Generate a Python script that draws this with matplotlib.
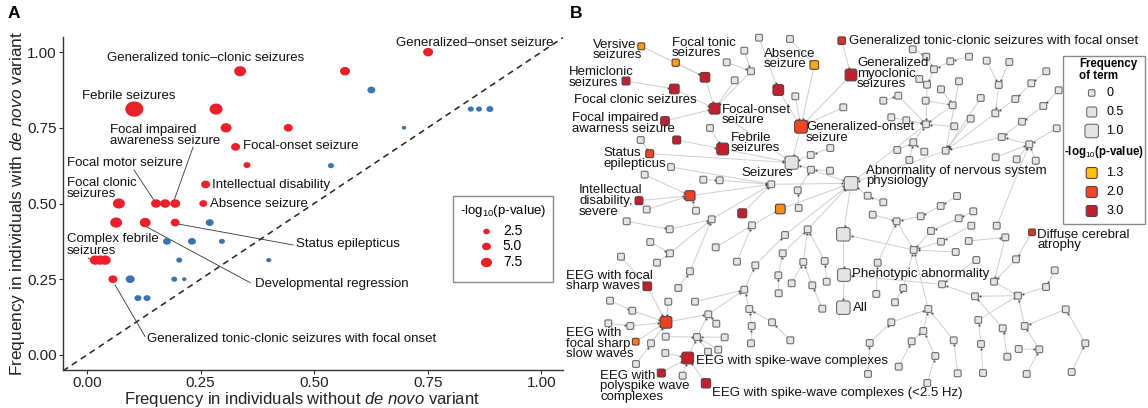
import numpy as np
import matplotlib
matplotlib.use("Agg")
import matplotlib.pyplot as plt
from matplotlib.patches import FancyBboxPatch, Rectangle
from matplotlib.path import Path
from matplotlib.markers import MarkerStyle
from matplotlib.colors import LinearSegmentedColormap, Normalize

plt.rcParams['font.family'] = ['Liberation Sans', 'DejaVu Sans']
plt.rcParams['mathtext.fontset'] = 'custom'
plt.rcParams['mathtext.rm'] = 'Liberation Sans'
plt.rcParams['mathtext.it'] = 'Liberation Sans:italic'

# ---------------- Panel A data ----------------
red_x = [0.751, 0.337, 0.568, 0.104, 0.284, 0.306, 0.443, 0.327, 0.352, 0.261,
         0.070, 0.152, 0.172, 0.194, 0.256, 0.064, 0.128, 0.194, 0.018, 0.029, 0.040, 0.057]
red_y = [1.000, 0.937, 0.937, 0.812, 0.812, 0.750, 0.750, 0.687, 0.627, 0.563,
         0.500, 0.500, 0.500, 0.500, 0.500, 0.437, 0.437, 0.437, 0.313, 0.313, 0.313, 0.250]
red_logp = [6.3, 8.5, 6.3, 15.3, 9.7, 7.4, 5.2, 5.2, 2.9, 5.2,
            8.5, 6.3, 6.3, 6.3, 4.0, 8.5, 7.4, 5.2, 7.4, 7.4, 7.4, 5.2]

blue_x = [0.626, 0.698, 0.845, 0.863, 0.887, 0.537, 0.270, 0.176, 0.231, 0.297,
          0.203, 0.400, 0.095, 0.192, 0.214, 0.112, 0.132]
blue_y = [0.875, 0.750, 0.812, 0.812, 0.812, 0.625, 0.437, 0.375, 0.375, 0.375,
          0.313, 0.313, 0.250, 0.250, 0.250, 0.1875, 0.1875]
blue_logp = [4.0, 0.1, 1.8, 1.8, 2.9, 1.8, 4.0, 4.0, 4.0, 1.8,
             1.8, 0.7, 5.2, 1.8, 0.1, 2.9, 2.9]

legend_vals = [2.5, 5.0, 7.5]
ticks = [0.00, 0.25, 0.50, 0.75, 1.00]
tick_labels = ['0.00', '0.25', '0.50', '0.75', '1.00']

# ---------------- Panel B data ----------------
term_name = ['VERS', 'FTON', 'ABS', 'GTCFO', 'FMOT', 'HEMI', 'FCLON', 'GTC', 'GMYO', 'FOCAL',
             'GEN', 'FIAS', 'CFEB', 'FEB', 'STAT', 'ID', 'IDS', 'DR', 'ORG', 'EEGFS',
             'EEGH', 'EEGSS', 'EEGSW', 'EEGPS', 'EEGSW25', 'DCA']
term_x = [641.3, 675.7, 814.3, 841.7, 705.0, 626.0, 674.3, 778.3, 851.0, 714.7,
          801.0, 665.0, 676.7, 722.7, 649.7, 690.0, 639.0, 742.3, 780.3, 647.3,
          666.0, 635.7, 687.7, 661.3, 706.0, 1032.0]
term_y = [46.3, 62.7, 65.0, 40.7, 77.3, 81.0, 89.0, 90.0, 75.0, 108.7,
          126.7, 121.0, 140.0, 149.0, 153.7, 195.7, 200.7, 213.3, 209.0, 286.3,
          322.3, 341.7, 358.0, 373.0, 383.3, 232.3]
term_freq = [0.05, 0.10, 0.30, 0.15, 0.45, 0.20, 0.45, 0.60, 0.75, 0.60,
             0.90, 0.30, 0.20, 0.75, 0.20, 0.50, 0.20, 0.35, 0.45, 0.30,
             0.75, 0.02, 0.75, 0.20, 0.40, 0.02]
term_logp = [1.5, 1.5, 1.45, 2.5, 3.0, 3.0, 3.0, 3.0, 3.0, 3.0,
             2.0, 3.0, 3.0, 3.0, 2.0, 2.1, 3.0, 3.0, 1.6, 3.0,
             2.1, 1.7, 3.0, 3.0, 3.0, 2.4]

big_name = ['ALL', 'PHENO', 'NS', 'NSP', 'SEIZ']
big_x = [843.3, 844.0, 843.3, 851.0, 791.7]
big_y = [307.7, 275.0, 234.3, 183.3, 162.7]
big_freq = [1.0, 0.9, 1.0, 1.0, 0.95]

gray_seizure = {
    'g759_38': (759, 37.7), 'g790_39': (790, 39), 'g744_51': (744.3, 50.7), 'g727_62': (726.7, 62.3),
    'g751_71': (751, 71.3), 'g735_80': (734.7, 80.3), 'g795_96': (795.3, 96.3), 'g843_107': (843.3, 107.3),
    'g710_128': (710, 128), 'g641_140': (640.7, 140), 'g811_155': (810.7, 155), 'g830_148': (830.3, 148),
    'g811_170': (811, 169.7), 'g830_171': (830, 170.7), 'g771_184': (771.3, 184.3), 'g671_167': (671, 167),
    'g703_180': (703.3, 179.7), 'g720_180': (719.7, 180.3), 'g645_175': (644.7, 174.7), 'g647_210': (646.7, 209.5),
    'g696_211': (696, 210.7), 'g798_190': (797.7, 190.3), 'g799_208': (798.7, 208), 'g752_225': (752, 225.3),
    'g785_235': (785, 235), 'g712_219': (711.7, 219.3), 'g670_229': (669.7, 229.3), 'g627_221': (626.7, 221.3),
    'g670_253': (670, 253.3), 'g650_242': (650.3, 242), 'g657_263': (657, 262.7), 'g690_271': (690, 271.3),
    'g678_288': (678.3, 288), 'g716_247': (715.7, 247.3), 'g737_262': (737, 261.7), 'g755_265': (755.3, 265.3),
}
gray_eeg = {
    'g744_290': (744.3, 289.7), 'g695_302': (695, 301.7), 'g749_309': (749.3, 309), 'g752_326': (751.7, 326),
    'g751_343': (751, 343.3), 'g772_322': (772, 322.3), 'g790_340': (790.3, 340.3), 'g708_314': (708.3, 314.3),
    'g716_324': (716.3, 323.7), 'g621_257': (621, 256.7), 'g668_302': (668.3, 301.7), 'g632_311': (632.3, 310.7),
    'g610_301': (610, 300.7), 'g630_326': (630.3, 326), 'g608_323': (608.3, 323.3), 'g651_343': (651, 343.3),
    'g636_364': (636, 364), 'g697_337': (697, 337), 'g666_337': (665.7, 336.7), 'g725_337': (724.7, 337.3),
    'g708_352': (708, 351.7), 'g718_350': (718.3, 349.7), 'g665_353': (665.3, 353), 'g683_376': (682.7, 375.7),
    'g808_229': (807.7, 229.3), 'g803_262': (803.3, 262), 'g825_261': (824.7, 261), 'g792_283': (791.7, 283.3),
    'g812_285': (812.3, 285.3), 'g822_309': (822.3, 308.7), 'g827_282': (826.7, 281.7), 'g783_253': (782.7, 253.3),
    'g778_275': (778.3, 275.3), 'g779_293': (778.7, 293.3),
}
gray_right_top = {
    'g926_124': (926, 124.3), 'g913_142': (913.3, 142.3), 'g897_150': (897.3, 150), 'g909_160': (909.3, 160),
    'g924_152': (924.3, 151.7), 'g891_117': (891.3, 117.3), 'g906_120': (906.3, 120.3), 'g898_96': (898.3, 95.7),
    'g883_101': (883.3, 100.7), 'g927_85': (927, 84.7), 'g919_79': (919.3, 79), 'g934_69': (934, 69.3),
    'g926_57': (926.3, 56.7), 'g913_49': (912.7, 49.3), 'g950_61': (950.3, 61.3), 'g969_57': (969, 56.7),
    'g953_105': (952.7, 105.3), 'g926_101': (925.7, 100.7), 'g941_89': (941, 89.3), 'g954_126': (954.3, 126.3),
    'g946_151': (945.7, 150.7), 'g959_81': (959, 81.3), 'g981_98': (980.7, 98), 'g971_119': (970.7, 118.7),
    'g995_113': (995.3, 113.3), 'g999_85': (998.7, 85), 'g987_61': (986.7, 60.7), 'g1009_62': (1009.3, 62),
    'g1015_99': (1015.3, 99), 'g1031_83': (1031.3, 83.3), 'g1046_71': (1046.3, 71.3), 'g1002_137': (1001.7, 137),
    'g1029_144': (1029.3, 144.3), 'g996_157': (995.7, 157.3), 'g1017_159': (1016.7, 159.3), 'g1036_161': (1035.7, 160.7),
    'g1057_128': (1056.7, 128.3), 'g1022_122': (1022, 121.7), 'g1043_106': (1043.3, 106), 'g1059_90': (1058.7, 90.3),
    'g868_196': (867.7, 195.7), 'g883_202': (883.3, 202.3),
}
gray_right_bottom = {
    'g873_215': (872.7, 214.7), 'g896_221': (896.7, 221.3), 'g914_250': (913.7, 250), 'g921_216': (920.7, 216.3),
    'g940_206': (940.7, 206), 'g957_196': (957, 196), 'g878_263': (877.7, 262.7), 'g876_294': (876.3, 294),
    'g895_302': (895, 302.3), 'g903_288': (903.3, 288), 'g931_231': (931, 231), 'g959_218': (958.7, 218.3),
    'g973_211': (973.3, 211.3), 'g941_242': (941, 241.7), 'g971_226': (971.3, 225.7), 'g956_252': (955.7, 252),
    'g928_309': (928.3, 309), 'g891_322': (891.3, 322.3), 'g870_343': (869.7, 343), 'g868_374': (868, 374),
    'g923_331': (923.3, 331), 'g912_341': (911.7, 341.3), 'g899_367': (898.7, 366.7), 'g935_356': (935.3, 356),
    'g927_383': (927.3, 383), 'g954_340': (953.7, 340.3), 'g958_373': (957.7, 373.3), 'g942_284': (942, 284.3),
    'g976_260': (976.3, 260), 'g975_296': (975, 296.3), 'g1018_296': (1018, 295.7), 'g994_282': (994, 281.7),
    'g1016_259': (1016, 259.3), 'g1005_237': (1005.3, 237.3), 'g969_241': (968.7, 241), 'g997_226': (996.7, 225.7),
    'g1046_287': (1046, 287), 'g1055_270': (1054.7, 270.3), 'g978_320': (978.3, 320), 'g981_344': (981, 344),
    'g983_373': (983, 373), 'g1025_326': (1024.7, 326), 'g1039_349': (1039.3, 349.3), 'g1019_349': (1018.7, 349),
    'g1027_374': (1026.7, 374), 'g1003_328': (1002.7, 328.3), 'g1007_357': (1007.3, 356.7), 'g1066_309': (1065.7, 309.3),
    'g1085_343': (1085.3, 343.3), 'g1072_372': (1071.7, 372),
}

edges_seizure = [
    ('VERS', 'FMOT'), ('FTON', 'FMOT'), ('FMOT', 'FOCAL'), ('HEMI', 'FCLON'), ('FCLON', 'FOCAL'),
    ('FIAS', 'FOCAL'), ('GTC', 'GEN'), ('ABS', 'GEN'), ('GMYO', 'GEN'), ('GTCFO', 'GMYO'),
    ('FOCAL', 'SEIZ'), ('GEN', 'SEIZ'), ('FEB', 'SEIZ'), ('CFEB', 'FEB'), ('STAT', 'SEIZ'),
    ('SEIZ', 'NSP'), ('ID', 'g771_184'), ('IDS', 'ID'), ('DR', 'g771_184'), ('ORG', 'NSP'),
    ('NSP', 'NS'), ('NS', 'PHENO'), ('PHENO', 'ALL'), ('DCA', 'g1016_259'),
    ('g759_38', 'GTC'), ('g790_39', 'ABS'), ('g744_51', 'g751_71'), ('g727_62', 'g751_71'),
    ('g751_71', 'FOCAL'), ('g735_80', 'FOCAL'), ('g795_96', 'GEN'), ('g843_107', 'GEN'),
    ('g710_128', 'FEB'), ('g641_140', 'STAT'), ('g811_155', 'SEIZ'), ('g830_148', 'g811_155'),
    ('g811_170', 'SEIZ'), ('g830_171', 'g811_170'), ('g771_184', 'NSP'), ('g671_167', 'g771_184'),
    ('g703_180', 'g720_180'), ('g720_180', 'g771_184'), ('g645_175', 'ID'), ('g647_210', 'ID'),
    ('g696_211', 'ID'), ('g798_190', 'g811_170'), ('g799_208', 'g798_190'), ('g752_225', 'ORG'),
    ('g785_235', 'NSP'), ('g712_219', 'g771_184'), ('g670_229', 'g712_219'), ('g627_221', 'g670_229'),
    ('g670_253', 'g712_219'), ('g650_242', 'g670_253'), ('g657_263', 'g670_253'), ('g690_271', 'g712_219'),
    ('g678_288', 'g690_271'), ('g716_247', 'g752_225'), ('g737_262', 'g752_225'), ('g755_265', 'g785_235'),
]
edges_eeg = [
    ('EEGFS', 'EEGH'), ('EEGSS', 'EEGH'), ('EEGH', 'g708_314'), ('EEGSW', 'g697_337'),
    ('EEGPS', 'EEGSW'), ('EEGSW25', 'EEGSW'),
    ('g744_290', 'g755_265'), ('g695_302', 'g744_290'), ('g749_309', 'g744_290'), ('g752_326', 'g749_309'),
    ('g751_343', 'g752_326'), ('g772_322', 'g749_309'), ('g790_340', 'g772_322'), ('g708_314', 'g744_290'),
    ('g716_324', 'g708_314'), ('g621_257', 'EEGFS'), ('g668_302', 'EEGH'), ('g632_311', 'EEGH'),
    ('g610_301', 'g632_311'), ('g630_326', 'EEGH'), ('g608_323', 'g630_326'), ('g651_343', 'EEGH'),
    ('g636_364', 'g651_343'), ('g697_337', 'g708_314'), ('g666_337', 'g697_337'), ('g725_337', 'g697_337'),
    ('g708_352', 'g697_337'), ('g718_350', 'g697_337'), ('g665_353', 'EEGSW'), ('g683_376', 'EEGSW'),
    ('g808_229', 'NSP'), ('g803_262', 'g808_229'), ('g825_261', 'g808_229'), ('g792_283', 'g803_262'),
    ('g812_285', 'g803_262'), ('g822_309', 'g812_285'), ('g827_282', 'g825_261'), ('g783_253', 'g808_229'),
    ('g778_275', 'g783_253'), ('g779_293', 'g778_275'),
]
edges_right = [
    ('g926_124', 'NSP'), ('g913_142', 'g926_124'), ('g897_150', 'g913_142'), ('g909_160', 'g913_142'),
    ('g924_152', 'g913_142'), ('g891_117', 'g926_124'), ('g906_120', 'g926_124'), ('g898_96', 'g926_124'),
    ('g883_101', 'g898_96'), ('g927_85', 'g926_124'), ('g919_79', 'g927_85'), ('g934_69', 'g927_85'),
    ('g926_57', 'g934_69'), ('g913_49', 'g926_57'), ('g950_61', 'g934_69'), ('g969_57', 'g950_61'),
    ('g953_105', 'g926_124'), ('g926_101', 'g953_105'), ('g941_89', 'g953_105'), ('g954_126', 'g926_124'),
    ('g946_151', 'NSP'), ('g959_81', 'g946_151'), ('g981_98', 'g946_151'), ('g971_119', 'g946_151'),
    ('g995_113', 'g946_151'), ('g999_85', 'g995_113'), ('g987_61', 'g999_85'), ('g1009_62', 'g999_85'),
    ('g1015_99', 'g995_113'), ('g1031_83', 'g1015_99'), ('g1046_71', 'g1031_83'), ('g1002_137', 'g946_151'),
    ('g1029_144', 'g1002_137'), ('g996_157', 'g1029_144'), ('g1017_159', 'g1029_144'), ('g1036_161', 'g1029_144'),
    ('g1057_128', 'g1029_144'), ('g1022_122', 'g1002_137'), ('g1043_106', 'g1022_122'), ('g1059_90', 'g1043_106'),
    ('g868_196', 'NSP'), ('g883_202', 'g868_196'),
    ('g873_215', 'g896_221'), ('g896_221', 'g914_250'), ('g914_250', 'NS'), ('g921_216', 'g896_221'),
    ('g940_206', 'g921_216'), ('g957_196', 'g940_206'), ('g878_263', 'g896_221'), ('g876_294', 'g878_263'),
    ('g895_302', 'g903_288'), ('g903_288', 'g914_250'), ('g931_231', 'g914_250'), ('g959_218', 'g931_231'),
    ('g973_211', 'g959_218'), ('g941_242', 'g914_250'), ('g971_226', 'g941_242'), ('g956_252', 'g914_250'),
    ('g928_309', 'g914_250'), ('g891_322', 'g928_309'), ('g870_343', 'g891_322'), ('g868_374', 'g870_343'),
    ('g923_331', 'g928_309'), ('g912_341', 'g923_331'), ('g899_367', 'g912_341'), ('g935_356', 'g923_331'),
    ('g927_383', 'g935_356'), ('g954_340', 'g928_309'), ('g958_373', 'g954_340'), ('g942_284', 'PHENO'),
    ('g976_260', 'g942_284'), ('g975_296', 'g942_284'), ('g1018_296', 'g975_296'), ('g994_282', 'g1018_296'),
    ('g1016_259', 'g994_282'), ('g1005_237', 'g994_282'), ('g969_241', 'g1005_237'), ('g997_226', 'g1029_144'),
    ('g1046_287', 'g1018_296'), ('g1055_270', 'g1046_287'), ('g978_320', 'g1018_296'), ('g981_344', 'g978_320'),
    ('g983_373', 'g981_344'), ('g1025_326', 'g1018_296'), ('g1039_349', 'g1025_326'), ('g1019_349', 'g1039_349'),
    ('g1027_374', 'g1039_349'), ('g1003_328', 'g975_296'), ('g1007_357', 'g1003_328'), ('g1066_309', 'g1025_326'),
    ('g1085_343', 'g1066_309'), ('g1072_372', 'g1085_343'),
]

b_label_text = ["Versive\nseizures", "Focal tonic\nseizures", "Absence\nseizure",
                "Generalized tonic-clonic seizures with focal onset", "Hemiclonic\nseizures",
                "Focal clonic seizures", "Focal impaired\nawarness seizure", "Focal-onset\nseizure",
                "Febrile\nseizures", "Status\nepilepticus", "Seizures", "Generalized-onset\nseizure",
                "Generalized\nmyoclonic\nseizures", "Abnormality of nervous system\nphysiology",
                "Intellectual\ndisability,\nsevere", "EEG with focal\nsharp waves",
                "EEG with\nfocal sharp\nslow waves", "EEG with spike-wave complexes",
                "EEG with\npolyspike wave\ncomplexes", "EEG with spike-wave complexes (<2.5 Hz)",
                "Phenotypic abnormality", "All", "Diffuse cerebral\natrophy"]
b_label_x = [593, 672, 764, 849, 569, 574, 572, 721.5, 730.5, 603, 741, 806, 857, 866,
             579, 566, 566, 696, 600.5, 711.5, 852.5, 853, 1037]
b_label_y = [50, 48, 59, 41, 77.5, 100, 123.5, 115, 143, 158.5, 173, 132.5, 73.5, 176,
             201, 281, 343.5, 361, 386.5, 393, 274, 308, 240]

freq_legend = [0, 0.5, 1.0]
logp_legend = [1.3, 2.0, 3.0]

# ---------------- figure ----------------
W, H = 1148, 408
fig = plt.figure(figsize=(W / 100, H / 100), dpi=100)
fig.patch.set_facecolor('white')

RED = '#E8212B'
BLUE = '#3B73AE'

# ---- Panel B (pixel coordinate axes) ----
axb = fig.add_axes([0, 0, 1, 1], zorder=0)
axb.set_xlim(0, W)
axb.set_ylim(H, 0)
axb.axis('off')

cmap = LinearSegmentedColormap.from_list('p', [(0.0, '#FFC20E'), (0.41, '#EF4623'), (1.0, '#C41F2E')])
norm = Normalize(1.3, 3.0)

pos, side, color = {}, {}, {}
for n, x, y, f, lp in zip(term_name, term_x, term_y, term_freq, term_logp):
    pos[n] = (x, y); side[n] = 6.5 + 7 * f; color[n] = cmap(norm(lp))
for n, x, y, f in zip(big_name, big_x, big_y, big_freq):
    pos[n] = (x, y); side[n] = 6.5 + 7 * f; color[n] = '#E4E4E4'
for grp in (gray_seizure, gray_eeg, gray_right_top, gray_right_bottom):
    for n, (x, y) in grp.items():
        pos[n] = (x, y); side[n] = 6.8; color[n] = '#E4E4E4'

for c, p in edges_seizure + edges_eeg + edges_right:
    (x1, y1), (x2, y2) = pos[c], pos[p]
    axb.plot([x1, x2], [y1, y2], color='#CFCFCF', lw=0.7, zorder=1, solid_capstyle='butt')
    d = np.hypot(x1 - x2, y1 - y2)
    if d > 0:
        ux, uy = (x1 - x2) / d, (y1 - y2) / d
        r = side[p] / 2 + 1.8
        axb.plot([x2 + ux * r], [y2 + uy * r], marker='s', ms=1.3, color='#444444', mec='none', zorder=1.5)

for n, (x, y) in pos.items():
    s = side[n]
    ec = '#6E6E6E' if color[n] == '#E4E4E4' else '#5A4040'
    axb.add_patch(FancyBboxPatch((x - s / 2, y - s / 2), s, s,
                                 boxstyle=f"round,pad=0,rounding_size={s * 0.2:.2f}",
                                 fc=color[n], ec=ec, lw=0.8, zorder=2))

for t, x, y in zip(b_label_text, b_label_x, b_label_y):
    axb.text(x, y, t, fontsize=9.5, ha='left', va='center', linespacing=0.88, zorder=3, color='#111111')

# legend B
axb.add_patch(Rectangle((1063, 56), 82, 168, fc='white', ec='#8A8A8A', lw=1, zorder=3))
axb.text(1079, 70, "Frequency\nof term", fontsize=8.3, fontweight='bold', ha='left', va='center',
         linespacing=0.95, zorder=4)
for f, y in zip(freq_legend, [93, 112, 131]):
    s = 6.5 + 7 * f
    axb.add_patch(FancyBboxPatch((1091.7 - s / 2, y - s / 2), s, s,
                                 boxstyle=f"round,pad=0,rounding_size={s * 0.2:.2f}",
                                 fc='#E4E4E4', ec='#6E6E6E', lw=0.8, zorder=4))
    axb.text(1106.5, y, f"{f:g}" if f == 0 else f"{f:.1f}", fontsize=9, ha='left', va='center', zorder=4)
axb.text(1104, 152, r"-log$_{10}$(p-value)", fontsize=8.3, fontweight='bold', ha='center', va='center', zorder=4)
for lp, y in zip(logp_legend, [173, 192, 211]):
    s = 11
    axb.add_patch(FancyBboxPatch((1091.7 - s / 2, y - s / 2), s, s,
                                 boxstyle=f"round,pad=0,rounding_size={s * 0.2:.2f}",
                                 fc=cmap(norm(lp)), ec='#5A4040', lw=0.8, zorder=4))
    axb.text(1106.5, y, f"{lp:.1f}", fontsize=9, ha='left', va='center', zorder=4)

axb.text(570, 14, "B", fontsize=12.5, fontweight='bold', ha='left', va='center')
axb.text(8, 14, "A", fontsize=12.5, fontweight='bold', ha='left', va='center')

# axis titles of panel A (placed in pixel space)
axb.text(302, 399.5, r"Frequency in individuals without $\it{de\ novo}$ variant", fontsize=12,
         ha='center', va='center', color='#222222', zorder=3)
axb.text(18, 203, r"Frequency in individuals with $\it{de\ novo}$ variant", fontsize=12.4,
         ha='center', va='center', rotation=90, color='#222222', zorder=3)

# ---- Panel A ----
ax = fig.add_axes([63 / W, 1 - 370 / H, 500 / W, 333 / H], zorder=2)
ax.patch.set_alpha(0)
ax.set_xlim(-0.053, 1.048)
ax.set_ylim(-0.05, 1.05)

th = np.linspace(0, 2 * np.pi, 64)
ell = MarkerStyle(Path(np.c_[1.18 * np.cos(th), np.sin(th)], closed=True))


def size_of(lp):
    # size scale: point width in pixels grows linearly with -log10(p)
    d_px = 4.4 + 0.89 * np.asarray(lp, dtype=float)
    return (d_px * 0.72) ** 2


ax.plot([-0.053, 1.048], [-0.053, 1.048], ls=(0, (4, 3)), color='#222222', lw=1.1, zorder=1)
ax.scatter(blue_x, blue_y, s=size_of(blue_logp), marker=ell, color=BLUE, lw=0, zorder=3)
ax.scatter(red_x, red_y, s=size_of(red_logp), marker=ell, color=RED, lw=0, zorder=3)


def px(xp, yp):
    return (xp - 87) / 454, (355 - yp) / 303


a_labels = [
    ("Generalized–onset seizure", 396, 43),
    ("Generalized tonic–clonic seizures", 107, 58),
    ("Febrile seizures", 82, 96),
    ("Focal impaired\nawareness seizure", 110, 135),
    ("Focal motor seizure", 67, 163),
    ("Focal clonic\nseizures", 67, 188.5),
    ("Focal-onset seizure", 243, 146),
    ("Intellectual disability", 212, 185),
    ("Absence seizure", 210, 204),
    ("Status epilepticus", 296, 244),
    ("Developmental regression", 255, 284),
    ("Complex febrile\nseizures", 67, 245),
    ("Generalized tonic-clonic seizures with focal onset", 147, 339),
]
for t, xp, yp in a_labels:
    x, y = px(xp, yp)
    ax.text(x, y, t, fontsize=9.5, ha='left', va='center', linespacing=0.9, color='#111111', zorder=4)

leaders = [((193, 147), (173, 203)), ((134, 170), (155, 202)), ((178, 224), (293, 245)),
           ((143, 225), (250, 282.7)), ((88, 258), (97, 263)), ((115, 285), (145, 336.7))]
for (a, b) in leaders:
    (x1, y1), (x2, y2) = px(*a), px(*b)
    ax.plot([x1, x2], [y1, y2], color='#333333', lw=0.6, zorder=2)

ax.set_xticks(ticks)
ax.set_xticklabels(tick_labels)
ax.set_yticks(ticks)
ax.set_yticklabels(tick_labels)
ax.tick_params(axis='both', length=3, width=0.8, color='#333333', labelsize=11, labelcolor='#222222', pad=1.5)
for sp in ['top', 'right']:
    ax.spines[sp].set_visible(False)
for sp in ['left', 'bottom']:
    ax.spines[sp].set_color('#333333')
    ax.spines[sp].set_linewidth(1.0)

# legend A
(lx0, ly0), (lx1, ly1) = px(453, 282), px(553, 196)
ax.add_patch(Rectangle((lx0, ly0), lx1 - lx0, ly1 - ly0, fc='white', ec='#8A8A8A', lw=1, zorder=5, clip_on=False))
tx, ty = px(503, 211)
ax.text(tx, ty, r"-log$_{10}$(p-value)", fontsize=9.5, ha='center', va='center', zorder=6)
for v, yp in zip(legend_vals, [231, 246, 262]):
    x, y = px(485.7, yp)
    ax.scatter([x], [y], s=size_of(v), marker=ell, color=RED, lw=0, zorder=6, clip_on=False)
    x2, _ = px(502.7, yp)
    ax.text(x2, y, f"{v:.1f}", fontsize=10, ha='left', va='center', zorder=6)

fig.savefig("out.png", dpi=100)
